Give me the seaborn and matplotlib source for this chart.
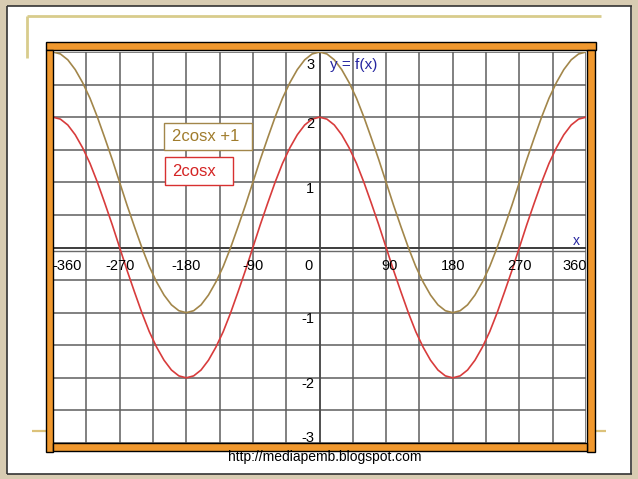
import matplotlib
matplotlib.use("Agg")
import matplotlib.pyplot as plt
from matplotlib.patches import Rectangle
from matplotlib.lines import Line2D
import seaborn as sns
import pandas as pd

# ---- data ----
x_deg = list(range(-360, 361, 10))
one_period_red = [2.00, 1.97, 1.88, 1.73, 1.53, 1.29, 1.00, 0.68, 0.35, 0.00,
                  -0.35, -0.68, -1.00, -1.29, -1.53, -1.73, -1.88, -1.97, -2.00,
                  -1.97, -1.88, -1.73, -1.53, -1.29, -1.00, -0.68, -0.35, 0.00,
                  0.35, 0.68, 1.00, 1.29, 1.53, 1.73, 1.88, 1.97]
one_period_olive = [3.00, 2.97, 2.88, 2.73, 2.53, 2.29, 2.00, 1.68, 1.35, 1.00,
                    0.65, 0.32, 0.00, -0.29, -0.53, -0.73, -0.88, -0.97, -1.00,
                    -0.97, -0.88, -0.73, -0.53, -0.29, 0.00, 0.32, 0.65, 1.00,
                    1.35, 1.68, 2.00, 2.29, 2.53, 2.73, 2.88, 2.97]
y_2cosx = one_period_red + one_period_red + [2.00]
y_2cosx_plus1 = one_period_olive + one_period_olive + [3.00]
x_tick_vals = [-360, -270, -180, -90, 0, 90, 180, 270, 360]
x_tick_labels = ["-360", "-270", "-180", "-90", "0", "90", "180", "270", "360"]
y_tick_vals = [3, 2, 1, -1, -2, -3]
y_tick_labels = ["3", "2", "1", "-1", "-2", "-3"]
label_red = "2cosx"
label_olive = "2cosx +1"
watermark = "http://mediapemb.blogspot.com"

# ---- style ----
sns.set_style("white")
plt.rcParams['font.family'] = ['Liberation Sans', 'DejaVu Sans']

W, H = 638, 479
fig = plt.figure(figsize=(W / 100, H / 100), dpi=100)
fig.patch.set_facecolor("white")

def prect(x0, y0, x1, y1, fc, ec="none", lw=0, z=1):
    r = Rectangle((x0 / W, 1 - y1 / H), (x1 - x0) / W, (y1 - y0) / H,
                  transform=fig.transFigure, facecolor=fc, edgecolor=ec, lw=lw, zorder=z)
    fig.add_artist(r)

def pline(xs, ys, color, lw, z=1):
    fig.add_artist(Line2D([x / W for x in xs], [1 - y / H for y in ys],
                          transform=fig.transFigure, color=color, lw=lw, zorder=z,
                          solid_capstyle="butt"))

# slide border
tan = "#d8ccb2"
prect(0, 0, 7, H, tan, z=0.5)
prect(0, 0, W, 5.5, tan, z=0.5)
prect(631.5, 0, W, H, tan, z=0.5)
prect(0, 474, W, H, tan, z=0.5)
pline([7, 7], [5.5, 474], "#333333", 1.2, z=0.6)
pline([7, 631.5], [5.5, 5.5], "#333333", 1.2, z=0.6)
pline([631, 631], [5.5, 474], "#333333", 1.2, z=0.6)
pline([7, 631.5], [473.5, 473.5], "#333333", 1.2, z=0.6)

# golden decoration lines
gold = "#dcc27a"
pline([27, 601], [16, 16], "#d8cc8c", 2.0, z=0.6)
pline([27, 27], [16, 58], "#d8cc8c", 2.0, z=0.6)
pline([32, 47], [431, 431], gold, 1.6, z=0.6)
pline([594, 606], [431, 431], gold, 1.6, z=0.6)

# axes
ax = fig.add_axes([53 / W, 1 - 443 / H, (586 - 53) / W, (443 - 52) / H])
ax.set_facecolor("white")
ax.set_xlim(-360, 360)
ax.set_ylim(-3, 3)
ax.set_xticks(list(range(-360, 361, 45)))
ax.set_yticks([v / 2 for v in range(-6, 7)])
ax.tick_params(length=0, labelbottom=False, labelleft=False)
ax.grid(True, color="#5e5e5e", lw=1.1)
for s in ax.spines.values():
    s.set_visible(False)
ax.axhline(0, color="#3a3a3a", lw=1.3, zorder=1.5)
ax.axhline(-0.05, color="#6a6a6a", lw=1.0, zorder=1.5)
ax.axvline(0, color="#4a4a4a", lw=1.2, zorder=1.5)

df = pd.DataFrame({"x": x_deg, "red": y_2cosx, "olive": y_2cosx_plus1})
sns.lineplot(data=df, x="x", y="olive", color="#a2864a", lw=1.2, ax=ax, zorder=3)
sns.lineplot(data=df, x="x", y="red", color="#d83c3c", lw=1.2, ax=ax, zorder=3)
ax.set_xlabel("")
ax.set_ylabel("")

# x tick labels
ha_map = {"-360": ("left", -361), "0": ("right", -9), "90": ("center", 95), "360": ("right", 361)}
for v, lab in zip(x_tick_vals, x_tick_labels):
    ha, xp = ha_map.get(lab, ("center", v))
    ax.text(xp, -0.28, lab, ha=ha, va="center", fontsize=10.5, color="black", zorder=4)

# y tick labels
for v, lab in zip(y_tick_vals, y_tick_labels):
    if v == 3:
        yp = 2.8
    elif v == -3:
        yp = -2.93
    else:
        yp = v - 0.1
    ax.text(-7, yp, lab, ha="right", va="center", fontsize=10.5, color="black", zorder=4)

ax.text(14, 2.8, "y = f(x)", ha="left", va="center", fontsize=11, color="#2626a0", zorder=4)
ax.text(347, 0.1, "x", ha="center", va="center", fontsize=10, color="#2626a0", zorder=4)

# legend-like boxes
prect(164, 123, 252, 150, "white", ec="#a2864a", lw=1.0, z=6)
fig.text(172 / W, 1 - 137 / H, label_olive, ha="left", va="center", fontsize=12,
         color="#a07c2c", zorder=7)
prect(165, 157, 233, 185, "white", ec="#d83030", lw=1.0, z=6)
fig.text(172 / W, 1 - 171.5 / H, label_red, ha="left", va="center", fontsize=12,
         color="#d42424", zorder=7)

# orange frame
orange = "#f0982e"
prect(46, 41.5, 596, 49.5, orange, ec="black", lw=1.0, z=5)
prect(46, 49.5, 53, 451.5, orange, ec="black", lw=1.0, z=5)
prect(586.5, 49.5, 594.5, 452, orange, ec="black", lw=1.0, z=5)
prect(53, 443, 587, 451, orange, ec="black", lw=1.0, z=5)

fig.text(325 / W, 1 - 457 / H, watermark, ha="center", va="center", fontsize=10,
         color="black", zorder=7)

fig.savefig("out.png", dpi=100)
